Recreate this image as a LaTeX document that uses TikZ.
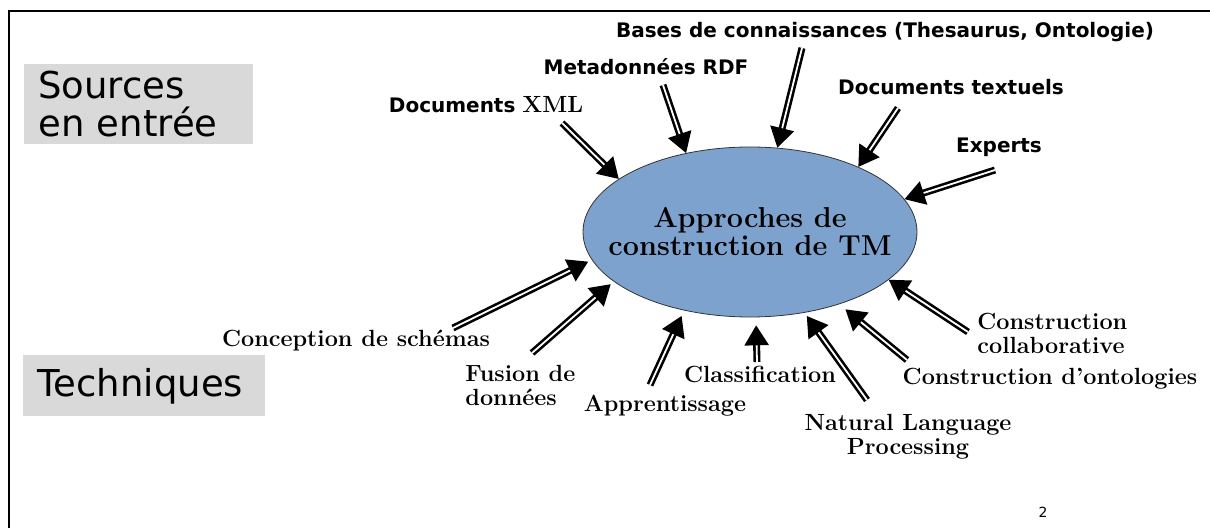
\documentclass[tikz,border=0pt]{standalone}
\usepackage{fontspec}
\usetikzlibrary{arrows.meta,shapes.geometric}
\newfontfamily\slidesans{DejaVu Sans}
\definecolor{tmblue}{RGB}{126,162,206}
\definecolor{boxgray}{RGB}{217,217,217}
\tikzset{
	feed/.style={draw=black, line width=1.3pt, double=white, double distance=0.9pt,
		-{Triangle[length=10pt,width=12pt]}},
	source/.style={font=\slidesans\bfseries\fontsize{10}{12}\selectfont, anchor=base, inner sep=0pt},
	technique/.style={font=\bfseries\fontsize{11.7}{12}\selectfont, inner sep=0pt},
	heading/.style={fill=boxgray, font=\slidesans\fontsize{18.5}{19}\selectfont, align=left,
		anchor=north west, inner xsep=7pt, inner ysep=0pt}
}
\begin{document}
\begin{tikzpicture}[x=0.5pt,y=-0.5pt]
	\useasboundingbox (0,0) rectangle (1210,528);
	\draw[line width=1pt] (9,528) -- (9,11) -- (1210,11);

	\node[heading, text width=100.5pt, minimum height=40pt] at (24,64) (sources) {Sources\\en entrée};
	\node[heading, text width=107pt, minimum height=30.5pt] at (23,355) (techniques) {Techniques};

	\node[ellipse, draw=black!80, fill=tmblue, minimum width=167pt, minimum height=85pt, inner xsep=-14pt,
		inner ysep=0pt, align=center, font=\bfseries\fontsize{14.4}{14}\selectfont] at (750,232) (tm)
		{Approches de\\construction de TM};

	% sources en entree
	\node[source] at (885,38) (bases) {Bases de connaissances (Thesaurus, Ontologie)};
	\node[source] at (646,75) (rdf) {Metadonnées RDF};
	\node[source] at (486,113) (xml) {Documents {\rmfamily\fontsize{11.7}{12}\selectfont XML}};
	\node[source] at (951,95) (textuels) {Documents textuels};
	\node[source] at (999,153) (experts) {Experts};

	% techniques
	\node[technique, anchor=base] at (356,347) (schemas) {Conception de schémas};
	\node[technique, anchor=west, align=left] at (465,385) (fusion) {Fusion de\\données};
	\node[technique, anchor=base] at (665,412) (apprent) {Apprentissage};
	\node[technique, anchor=base] at (760,383) (classif) {Classification};
	\node[technique, anchor=north, align=center] at (908,414) (nlp) {Natural Language\\Processing};
	\node[technique, anchor=base] at (1050,385) (onto) {Construction d’ontologies};
	\node[technique, anchor=west, align=left] at (977,333) (collab) {Construction\\collaborative};

	\node[font=\slidesans\fontsize{7}{8}\selectfont] at (1043,512) (page) {2};

	\coordinate (xmltail) at (562,123);
	\coordinate (rdftail) at (663,85);
	\coordinate (basestail) at (802,48);
	\coordinate (textuelstail) at (898,108);
	\coordinate (expertstail) at (995,170);
	\coordinate (schemastail) at (453,328);
	\coordinate (fusiontail) at (532,353);
	\coordinate (apprenttail) at (650,385);
	\coordinate (classiftail) at (757,362);
	\coordinate (nlptail) at (867,400);
	\coordinate (ontotail) at (907,360);
	\coordinate (collabtail) at (968,332);

	\foreach \t/\a/\s in {xmltail/158/0, rdftail/129/0, basestail/72/0, textuelstail/31/0, expertstail/12/0,
		schemastail/190/2, fusiontail/200/2, apprenttail/230/3, classiftail/274/4, nlptail/304/2,
		ontotail/321/4, collabtail/341/0}
		\draw[feed, shorten >=\s pt] (\t) -- (tm.\a);
\end{tikzpicture}
\end{document}
